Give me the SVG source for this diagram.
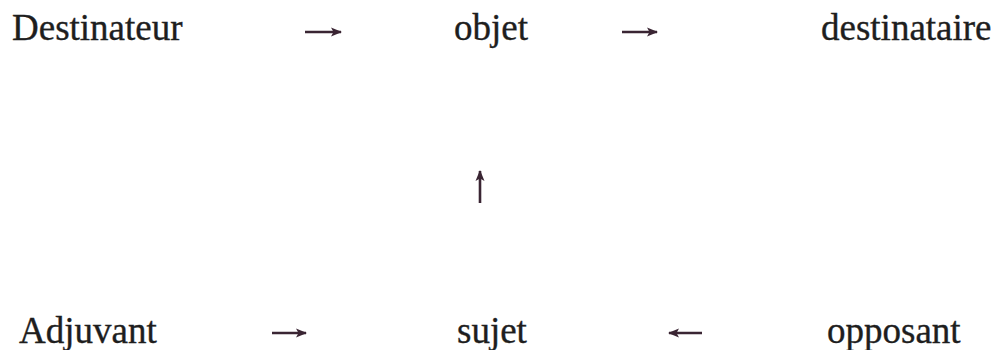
<svg xmlns="http://www.w3.org/2000/svg" width="995" height="350" viewBox="0 0 995 350">
<defs>
<marker id="ah" markerWidth="11" markerHeight="10" refX="10" refY="5" orient="auto" markerUnits="userSpaceOnUse">
<path d="M0,0.5 L11,5 L0,9.5 L2.5,5 Z" fill="#3a2533"/>
</marker>
</defs>
<style>
.t{font-family:"Liberation Serif","Times New Roman",serif;font-size:37px;fill:#1e1e1e;stroke:#1e1e1e;stroke-width:0.35}
.c{stroke:#3a2533;stroke-width:2.6;fill:none;marker-end:url(#ah)}
</style>
<rect width="995" height="350" fill="#ffffff"/>
<g id="destinateur"><text class="t" x="12" y="40">Destinateur</text></g>
<g id="objet"><text class="t" x="454" y="40">objet</text></g>
<g id="destinataire"><text class="t" x="821" y="40">destinataire</text></g>
<g id="adjuvant"><text class="t" x="19" y="343">Adjuvant</text></g>
<g id="sujet"><text class="t" x="457" y="343">sujet</text></g>
<g id="opposant"><text class="t" x="827" y="343">opposant</text></g>
<g id="connectors">
<path class="c" d="M305,32 H341"/>
<path class="c" d="M622,32 H657"/>
<path class="c" d="M480,203 V171"/>
<path class="c" d="M272,333 H306"/>
<path class="c" d="M702,333 H669"/>
</g>
</svg>
